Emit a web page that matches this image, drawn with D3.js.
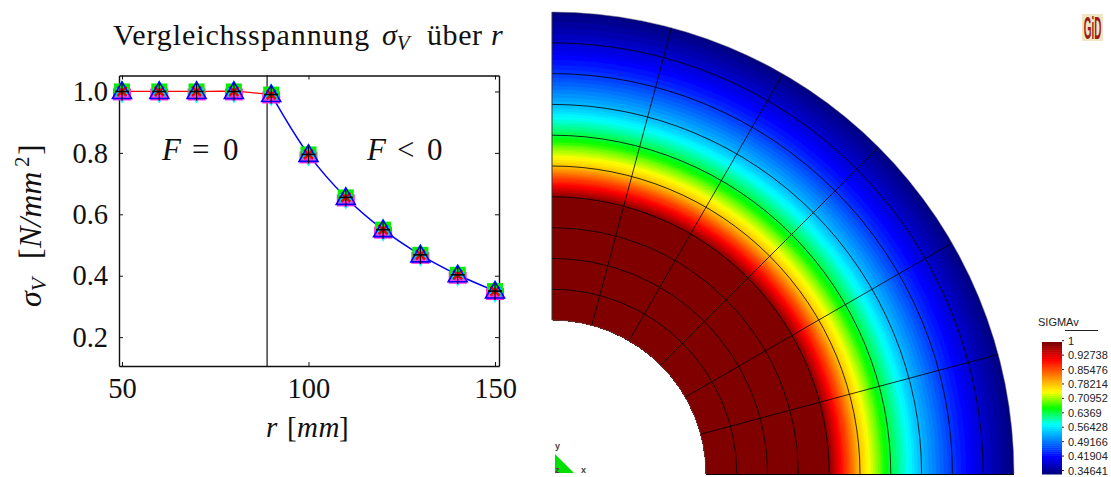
<!DOCTYPE html>
<html>
<head>
<meta charset="utf-8">
<script src="https://cdn.jsdelivr.net/npm/d3@7"></script>
<style>
  body { margin: 0; background: #fff; }
  svg { display: block; }
  text { font-family: "Liberation Serif", serif; }
  .math { font-style: italic; }
  .gid text { font-family: "Liberation Sans", sans-serif; }
</style>
</head>
<body>
<script>
// values
const radius = [50, 60, 70, 80, 90, 100, 110, 120, 130, 140, 150];
const sigmaV = [1, 1, 1, 1, 0.99, 0.795, 0.655, 0.55, 0.468, 0.403, 0.35];
const plasticEnd = 4; // index of r=90, red line stops here
const boundaryR = 88.9;
const xTicks = [50, 100, 150];
const yTicks = [0.2, 0.4, 0.6, 0.8, 1.0];

// contour plot
const meshRings = [50, 60, 70, 80, 90, 100, 110, 120, 130, 140, 150];
const meshAngles = [15, 30, 45, 60, 75];
const legendLabels = ["1", "0.92738", "0.85476", "0.78214", "0.70952", "0.6369", "0.56428", "0.49166", "0.41904", "0.34641"];
const jetStops = [0, 0.125, 0.375, 0.5, 0.625, 0.875, 1];
const jetColors = ["#000080", "#0000ff", "#00ffff", "#00ff00", "#ffff00", "#ff0000", "#800000"];

const ink = "#111";
const svg = d3.select("body").append("svg").attr("width", 1111).attr("height", 477);

// ---- left chart ----
const x = d3.scaleLinear().domain([49.2, 151.07]).range([119, 499]);
const y = d3.scaleLinear().domain([0.106, 1.052]).range([366, 75.5]);

const plot = svg.append("g");

function styleAxis(g) {
  g.select(".domain").attr("stroke", ink).attr("stroke-width", 1.4);
  g.selectAll(".tick line").attr("stroke", ink).attr("stroke-width", 1);
  g.selectAll(".tick text").style("font-size", "28.5px").style("font-family", "Liberation Serif").attr("fill", ink);
}

plot.append("g").attr("transform", "translate(0,366)")
  .call(d3.axisBottom(x).tickValues(xTicks).tickFormat(d3.format("d")).tickSizeInner(-4).tickSizeOuter(0).tickPadding(12))
  .call(styleAxis);
plot.append("g").attr("transform", "translate(0,75.5)")
  .call(d3.axisTop(x).tickValues(xTicks).tickFormat("").tickSizeInner(-4).tickSizeOuter(0))
  .call(styleAxis);
plot.append("g").attr("transform", "translate(119,0)")
  .call(d3.axisLeft(y).tickValues(yTicks).tickFormat(d3.format(".1f")).tickSizeInner(-4).tickSizeOuter(0).tickPadding(11))
  .call(styleAxis);
plot.append("g").attr("transform", "translate(499,0)")
  .call(d3.axisRight(y).tickValues(yTicks).tickFormat("").tickSizeInner(-4).tickSizeOuter(0))
  .call(styleAxis);

// F=0 / F<0 boundary
plot.append("line")
  .attr("x1", x(boundaryR)).attr("x2", x(boundaryR))
  .attr("y1", 75.5).attr("y2", 366)
  .attr("stroke", ink).attr("stroke-width", 1.2);

const pts = radius.map((r, i) => [r, sigmaV[i]]);
const line = d3.line().x(d => x(d[0])).y(d => y(d[1])).curve(d3.curveCatmullRom.alpha(0.5));
plot.append("path").attr("d", line(pts.slice(0, plasticEnd + 1)))
  .attr("fill", "none").attr("stroke", "#ff0000").attr("stroke-width", 1.3);
plot.append("path").attr("d", line(pts.slice(plasticEnd)))
  .attr("fill", "none").attr("stroke", "#0000ff").attr("stroke-width", 1.5);

// stacked markers, several series on top of each other
const marker = plot.selectAll("g.marker").data(pts).join("g")
  .attr("class", "marker")
  .attr("transform", d => `translate(${x(d[0])},${y(d[1])})`);
marker.append("path").attr("d", "M0,-11L7,0L0,12L-7,0Z").attr("fill", "#00ffff");
marker.append("rect").attr("x", -9).attr("y", -3).attr("width", 18).attr("height", 12).attr("fill", "#ff30e0");
marker.append("rect").attr("x", -8).attr("y", -8).attr("width", 16).attr("height", 11).attr("fill", "#00f000");
marker.append("path").attr("d", "M-6,-4.5L0,0L-6,6.5ZM6,-4.5L0,0L6,6.5Z").attr("fill", "#00d8d8");
marker.append("path").attr("d", "M-4.5,-4.5L4.5,4.5M4.5,-4.5L-4.5,4.5").attr("stroke", "#f00000").attr("stroke-width", 2.5);
marker.append("path").attr("d", "M0,-9.5L9.5,7L-9.5,7Z")
  .attr("fill", "none").attr("stroke", "#0000ff").attr("stroke-width", 1.6);
marker.append("path").attr("d", "M0,-8V9").attr("stroke", "#000").attr("stroke-width", 1.2);
marker.append("path").attr("d", "M-7,0H7").attr("stroke", "#000").attr("stroke-width", 1.6);

// titles
const title = svg.append("text").attr("y", 45).style("font-size", "30px").attr("fill", ink);
title.append("tspan").attr("x", 113).style("letter-spacing", "0.9px").text("Vergleichsspannung");
title.append("tspan").attr("x", 382).attr("class", "math").text("σ");
title.append("tspan").attr("class", "math").attr("dy", 5).style("font-size", "21px").text("V");
title.append("tspan").attr("x", 427).attr("dy", -5).style("letter-spacing", "0.6px").text("über");
title.append("tspan").attr("x", 491).attr("class", "math").text("r");

const xLab = svg.append("text").attr("y", 437).style("font-size", "29px").attr("fill", ink);
xLab.append("tspan").attr("x", 266).attr("class", "math").text("r");
xLab.append("tspan").attr("x", 287).text("[");
xLab.append("tspan").attr("x", 297).attr("class", "math").style("letter-spacing", "0.5px").text("mm");
xLab.append("tspan").attr("x", 339).text("]");

// rotated, so x here runs upwards along -y
const yLab = svg.append("text").attr("transform", "translate(41,0) rotate(-90)").style("font-size", "32px").attr("fill", ink);
yLab.append("tspan").attr("x", -307).attr("class", "math").text("σ");
yLab.append("tspan").attr("class", "math").attr("dy", 5).style("font-size", "22px").text("V");
yLab.append("tspan").attr("x", -259).attr("dy", -5).text("[");
yLab.append("tspan").attr("x", -248).attr("class", "math").text("N/mm");
yLab.append("tspan").attr("x", -167).attr("dy", -12).style("font-size", "21px").text("2");
yLab.append("tspan").attr("x", -155).attr("dy", 12).text("]");

[[162, 192, 223, "="], [367, 397, 427, "<"]].forEach(p => {
  const t = svg.append("text").attr("y", 160).style("font-size", "31px").attr("fill", ink);
  t.append("tspan").attr("x", p[0]).attr("class", "math").text("F");
  t.append("tspan").attr("x", p[1]).text(p[3]);
  t.append("tspan").attr("x", p[2]).text("0");
});

// ---- right contour plot ----
const vMin = 0.34641, vMax = 1;
const palette = d3.quantize(d3.scaleLinear().domain(jetStops).range(jetColors), 64);
const levels = d3.scaleQuantize().domain([vMin, vMax]).range(palette);

const sigmaAt = d3.scaleLinear().domain(radius).range(sigmaV);
const rPx = d3.scaleLinear().domain([50, 150]).range([154, 462]);
const arc = d3.arc().startAngle(0).endAngle(Math.PI / 2);
const ringPath = R => {
  const p = d3.path();
  p.arc(0, 0, R, -Math.PI / 2, 0);
  return p.toString();
};

const field = svg.append("g").attr("transform", "translate(552,474)");
// outermost first, each one painted over by the next smaller sector
const steps = d3.range(150, 50, -0.25);
field.selectAll("path.band").data(steps).join("path")
  .attr("class", "band")
  .attr("d", r => arc({ innerRadius: rPx(50), outerRadius: rPx(r) }))
  .attr("fill", r => levels(sigmaAt(r)));

field.selectAll("path.ring").data(meshRings.slice(1, -1)).join("path")
  .attr("class", "ring")
  .attr("d", r => ringPath(rPx(r)))
  .attr("fill", "none").attr("stroke", "#000").attr("stroke-width", 0.8);
field.selectAll("line.spoke").data(meshAngles).join("line")
  .attr("class", "spoke")
  .attr("x1", a => rPx(50) * Math.sin(a * Math.PI / 180))
  .attr("y1", a => -rPx(50) * Math.cos(a * Math.PI / 180))
  .attr("x2", a => rPx(150) * Math.sin(a * Math.PI / 180))
  .attr("y2", a => -rPx(150) * Math.cos(a * Math.PI / 180))
  .attr("stroke", "#000").attr("stroke-width", 0.8);
// straight edges
field.append("path").attr("d", `M0,${-rPx(150)}V${-rPx(50)}`).attr("stroke", "#333").attr("stroke-width", 1);
field.append("path").attr("d", `M${rPx(50)},0.5H${rPx(150)}`).attr("stroke", "#000").attr("stroke-width", 1);
field.append("path").attr("d", ringPath(rPx(150)))
  .attr("fill", "none").attr("stroke", "#777").attr("stroke-width", 0.5);
field.append("path").attr("d", ringPath(rPx(50)))
  .attr("fill", "none").attr("stroke", "#555").attr("stroke-width", 0.6);

// legend
const gid = svg.append("g").attr("class", "gid");
const legY = d3.scaleLinear().domain([vMin, vMax]).range([474, 342]);
palette.forEach((c, i) => {
  const lo = vMin + (vMax - vMin) * i / palette.length;
  const hi = vMin + (vMax - vMin) * (i + 1) / palette.length;
  gid.append("rect").attr("x", 1042).attr("width", 20)
    .attr("y", legY(hi)).attr("height", legY(lo) - legY(hi) + 0.5)
    .attr("fill", c);
});
gid.append("text").attr("x", 1038).attr("y", 326).style("font-size", "11px").attr("fill", "#222").text("SIGMAv");
gid.append("line").attr("x1", 1065).attr("x2", 1098).attr("y1", 330.5).attr("y2", 330.5).attr("stroke", "#222");
const labY = d3.scaleLinear().domain([0, legendLabels.length - 1]).range([340.7, 470.5]);
legendLabels.forEach((t, i) => {
  gid.append("text").attr("x", 1068).attr("y", labY(i) + 4).style("font-size", "11px").attr("fill", "#222").text(t);
  gid.append("line").attr("x1", 1062).attr("x2", 1064).attr("y1", labY(i)).attr("y2", labY(i)).attr("stroke", "#222");
});

// axis triad
gid.append("path").attr("d", "M555,454L574,473L555,473Z").attr("fill", "#00e000");
gid.append("text").attr("x", 555).attr("y", 449).style("font-size", "9px").style("font-weight", "bold").attr("fill", "#444").text("y");
gid.append("text").attr("x", 555).attr("y", 473).style("font-size", "9px").style("font-weight", "bold").attr("fill", "#444").text("z");
gid.append("text").attr("x", 581).attr("y", 473).style("font-size", "9px").style("font-weight", "bold").attr("fill", "#444").text("x");

// GiD logo
gid.append("rect").attr("x", 1082).attr("y", 14).attr("width", 21).attr("height", 27).attr("fill", "#efe6c4");
gid.append("text").attr("transform", "translate(1092.5,38.5) scale(0.66,2.05)").attr("text-anchor", "middle")
  .style("font-size", "15px").style("font-weight", "bold").attr("fill", "#a01818").text("GiD");
</script>
</body>
</html>
